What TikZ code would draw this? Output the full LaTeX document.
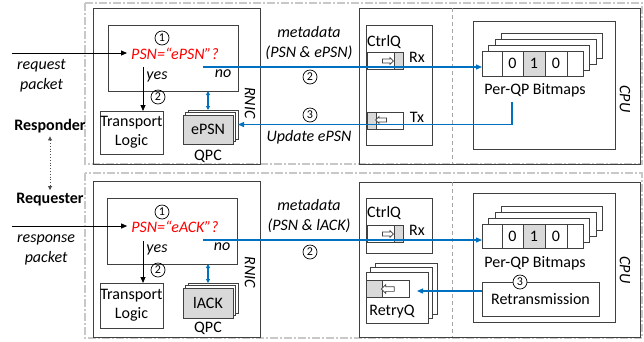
\documentclass[tikz,border=0pt]{standalone}
\usepackage{fontspec}
\setmainfont{Carlito}
\usetikzlibrary{positioning,arrows.meta,shapes.arrows}
\definecolor{linkblue}{HTML}{0070C0}
\definecolor{alertred}{HTML}{FF0000}
\definecolor{slot}{HTML}{D9D9D9}
\definecolor{framegray}{HTML}{C8C8C8}
\definecolor{edge}{HTML}{404040}

\begin{document}
\begin{tikzpicture}[x=1pt, y=-1pt,
    every node/.style={font=\fontsize{16}{19}\selectfont},
    box/.style 2 args={draw=edge, line width=1pt, anchor=north west, inner sep=0pt,
                       outer sep=0pt, minimum width=#1, minimum height=#2, align=center},
    frame/.style={draw=framegray, line width=1.2pt, dash pattern=on 8pt off 2pt on 2pt off 2pt},
    divider/.style={draw=black!35, line width=1pt, dash pattern=on 4pt off 3pt},
    ital/.style={font=\fontsize{16}{20}\selectfont\itshape, align=center, inner sep=1pt},
    side/.style={font=\fontsize{16}{19}\selectfont\itshape, rotate=-90, inner sep=1pt},
    num/.style={circle, draw=black, line width=0.7pt, inner sep=0pt, minimum size=14pt,
                font=\fontsize{12}{12}\selectfont},
    cell/.style={draw=edge, line width=0.8pt, anchor=west, inner sep=0pt, outer sep=0pt,
                 minimum height=25pt},
    qarrow/.style={single arrow, draw=edge, fill=white, line width=0.7pt, inner sep=1.6pt,
                   minimum height=11pt, single arrow head extend=1.6pt},
    flow/.style={draw=black, line width=0.8pt, -{Triangle[length=6pt,width=5pt]}},
    link/.style={draw=linkblue, line width=1.2pt, -{Triangle[length=6pt,width=5pt]}},
    linkboth/.style={draw=linkblue, line width=1.2pt,
                     {Triangle[length=4pt,width=4pt]}-{Triangle[length=4pt,width=4pt]}}
  ]
    % Background and outer frames
    \fill[white] (0,0) rectangle (644,341);
    \useasboundingbox (0,0) rectangle (644,341);
    \draw[frame] (85,3) rectangle (642,164);
    \draw[frame] (85,173) rectangle (642,338);

    % Roles
    \node[font=\fontsize{16}{19}\selectfont\bfseries] (resp) at (50,126) {Responder};
    \node[font=\fontsize{16}{19}\selectfont\bfseries] (reqr) at (50,200) {Requester};
    \draw[dotted, draw=black!70, line width=0.8pt,
          {Triangle[length=4pt,width=4pt]}-{Triangle[length=4pt,width=4pt]}] (resp.south) -- (reqr.north);

    % Top-left: responder RNIC
    \node[box={167}{156}] (rnicT) at (93,8) {};
    \node[box={130}{66}] (chkT) at (108,25) {};
    \node[num] (n1T) at (162,38) {1};
    \node[ital, text=alertred, inner sep=4pt] (psnT) at (175,54) {PSN=“ePSN”?};
    \node[ital] (yesT) at (157,77) {yes};
    \node[ital] (noT) at (223,74) {no};
    \node[num] (n2T) at (158,97) {2};
    \node[box={63}{43}] (transT) at (100,111) {Transport\\Logic};
    \node[box={50}{29}, fill=white] (qpcT2) at (188,110) {};
    \node[box={50}{29}, fill=white] (qpcT1) at (185.5,112.5) {};
    \node[box={50}{29}, fill=slot] (qpcT) at (183,115) {ePSN};
    \node (qpcT-lbl) at (208,156) {QPC};
    \node[side] (rnicT-lbl) at (250,103) {RNIC};
    \node[ital, anchor=west] (reqT-lbl) at (16,76) {request\\packet};

    % Top-right: host CtrlQ and CPU
    \node[box={281}{156}] (hostT) at (359,8) {};
    \draw[divider] (452,8) -- (452,164);
    \node[box={66}{120}] (ctrlT) at (366,25) {};
    \node (ctrlT-lbl) at (384,42) {CtrlQ};
    \node[box={36}{17}, line width=0.8pt] (rxT) at (367,52) {};
    \node[box={9}{17}, line width=0.8pt, fill=slot] (rxT-head) at (394,52) {};
    \node[qarrow] (rxT-arr) at (387,61) {};
    \node (rxT-lbl) at (417,57) {Rx};
    \node[box={36}{17}, line width=0.8pt] (txT) at (367,112) {};
    \node[box={9}{17}, line width=0.8pt, fill=slot] (txT-head) at (367,112) {};
    \node[qarrow, shape border rotate=180] (txT-arr) at (382,120) {};
    \node (txT-lbl) at (417,117) {Tx};
    \node[box={142}{128}] (cpuT) at (473,21) {};
    \node[side] (cpuT-lbl) at (625,99) {CPU};
    \node[box={101}{25}, fill=white] (bmT3) at (501.5,33) {};
    \node[box={101}{25}, fill=white] (bmT2) at (495,39) {};
    \node[box={101}{25}, fill=white] (bmT1) at (488.5,45) {};
    \node[cell, fill=white, minimum width=20] (bmT) at (482,63.5) {};
    \node[cell, fill=white, minimum width=21, right=0pt of bmT] (bmT-a) {0};
    \node[cell, fill=slot, minimum width=22, right=0pt of bmT-a] (bmT-b) {1};
    \node[cell, fill=white, minimum width=22, right=0pt of bmT-b] (bmT-c) {0};
    \node[cell, fill=white, minimum width=16, right=0pt of bmT-c] (bmT-d) {};
    \node (bmT-lbl) at (535,90) {Per-QP Bitmaps};

    % Top: metadata and update paths
    \node[ital] (metaT) at (309,43) {metadata\\(PSN \& ePSN)};
    \node[num] (n2T-meta) at (310,77) {2};
    \node[num] (n3T) at (310,115) {3};
    \node[ital] (updT-lbl) at (309,137) {Update ePSN};
    \coordinate (reqT) at (12,53);
    \coordinate (yesT-src) at (143,67);
    \coordinate (noT-src) at (203,67);
    \coordinate (updT-src) at (512,102);
    \draw[flow] (reqT) -- (reqT -| psnT.west);
    \draw[flow] (yesT-src) -- (yesT-src |- transT.north);
    \draw[link] (noT-src) -- (noT-src -| bmT.west);
    \draw[link] (updT-src) |- (qpcT2.east);
    \draw[linkboth] (qpcT.north |- chkT.south) -- (qpcT.north |- qpcT2.north);

    % Bottom-left: requester RNIC
    \node[box={167}{156}] (rnicB) at (93,181) {};
    \node[box={130}{66}] (chkB) at (107,198) {};
    \node[num] (n1B) at (162,212) {1};
    \node[ital, text=alertred, inner sep=4pt] (psnB) at (175,227) {PSN=“eACK”?};
    \node[ital] (yesB) at (157,250) {yes};
    \node[ital] (noB) at (222,247) {no};
    \node[num] (n2B) at (158,270) {2};
    \node[box={63}{45}] (transB) at (100,283) {Transport\\Logic};
    \node[box={50}{30}, fill=white] (qpcB2) at (188,283) {};
    \node[box={50}{30}, fill=white] (qpcB1) at (185.5,285.5) {};
    \node[box={50}{30}, fill=slot] (qpcB) at (183,288) {lACK};
    \node (qpcB-lbl) at (208,328) {QPC};
    \node[side] (rnicB-lbl) at (250,272) {RNIC};
    \node[ital, anchor=west] (rspB-lbl) at (16,250) {response\\packet};

    % Bottom-right: host CtrlQ, RetryQ and CPU
    \node[box={281}{155}] (hostB) at (359,182) {};
    \draw[divider] (452,182) -- (452,337);
    \node[box={66}{55}] (ctrlB) at (366,198) {};
    \node (ctrlB-lbl) at (384,213) {CtrlQ};
    \node[box={36}{17}, line width=0.8pt] (rxB) at (367,225) {};
    \node[box={9}{17}, line width=0.8pt, fill=slot] (rxB-head) at (394,225) {};
    \node[qarrow] (rxB-arr) at (387,234) {};
    \node (rxB-lbl) at (417,230) {Rx};
    \node[box={62}{51}, fill=white] (retryB2) at (375,263) {};
    \node[box={62}{51}, fill=white] (retryB1) at (370.5,267.5) {};
    \node[box={62}{51}, fill=white] (retryB) at (366,272) {};
    \node[box={43}{17}, line width=0.8pt] (retryB-q) at (366,280) {};
    \node[box={16}{17}, line width=0.8pt, fill=slot] (retryB-head) at (366,280) {};
    \node[qarrow, shape border rotate=180, minimum height=13pt, inner sep=2pt,
          single arrow head extend=2pt] (retryB-arr) at (389,289) {};
    \node (retryB-lbl) at (392,312) {RetryQ};
    \node[box={142}{129}] (cpuB) at (473,193) {};
    \node[side] (cpuB-lbl) at (625,270) {CPU};
    \node[box={101}{24}, fill=white] (bmB3) at (501.5,206) {};
    \node[box={101}{24}, fill=white] (bmB2) at (495,212) {};
    \node[box={101}{24}, fill=white] (bmB1) at (488.5,218) {};
    \node[cell, fill=white, minimum width=20, minimum height=24] (bmB) at (482,236) {};
    \node[cell, fill=white, minimum width=21, minimum height=24, right=0pt of bmB] (bmB-a) {0};
    \node[cell, fill=slot, minimum width=22, minimum height=24, right=0pt of bmB-a] (bmB-b) {1};
    \node[cell, fill=white, minimum width=22, minimum height=24, right=0pt of bmB-b] (bmB-c) {0};
    \node[cell, fill=white, minimum width=16, minimum height=24, right=0pt of bmB-c] (bmB-d) {};
    \node (bmB-lbl) at (535,263) {Per-QP Bitmaps};
    \node[box={117}{34}] (retransB) at (482,282) {Retransmission};
    \node[num, fill=white] (n3B) at (520,282) {3};

    % Bottom: metadata and retransmission paths
    \node[ital] (metaB) at (309,216) {metadata\\(PSN \& lACK)};
    \node[num] (n2B-meta) at (310,252) {2};
    \coordinate (rspB) at (12,226);
    \coordinate (yesB-src) at (143,241);
    \coordinate (noB-src) at (203,240);
    \coordinate (retryB-in) at (417,291);
    \draw[flow] (rspB) -- (rspB -| psnB.west);
    \draw[flow] (yesB-src) -- (yesB-src |- transB.north);
    \draw[link] (noB-src) -- (noB-src -| bmB.west);
    \draw[link] (retransB.west |- retryB-in) -- (retryB-in);
    \draw[linkboth] (qpcB.north |- chkB.south) -- (qpcB.north |- qpcB2.north);
  \end{tikzpicture}
\end{document}
